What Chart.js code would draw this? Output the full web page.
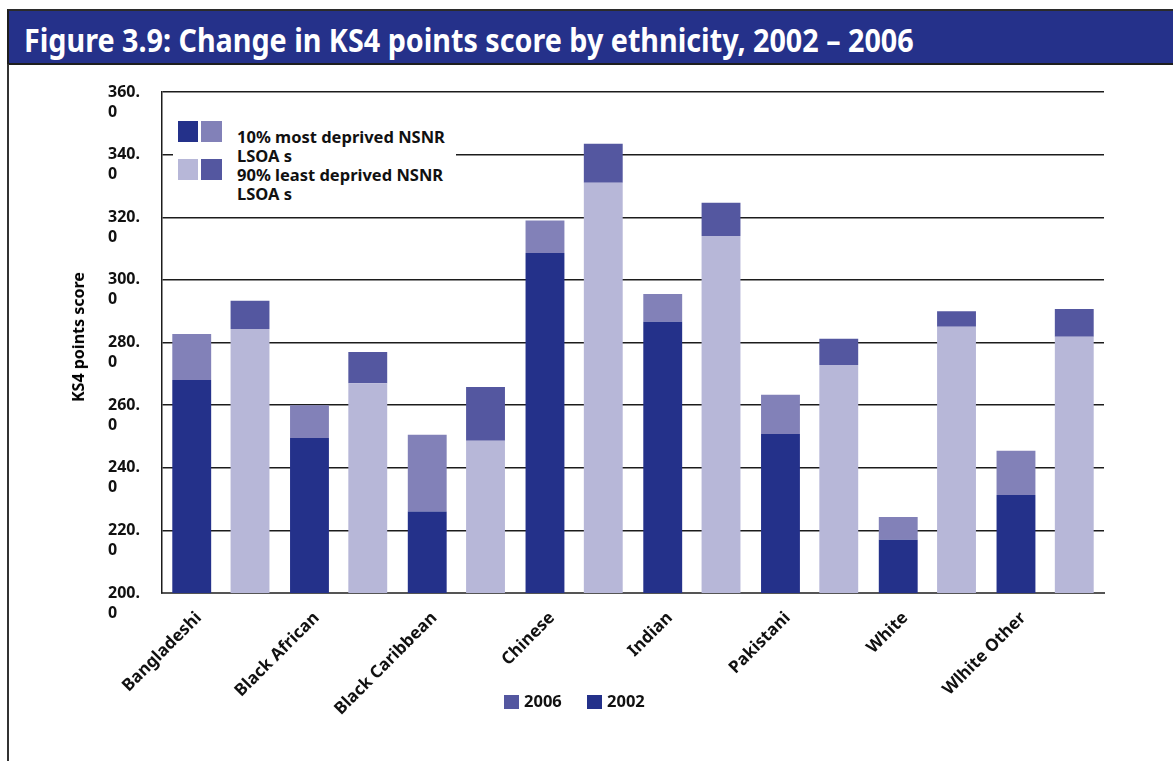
<!DOCTYPE html>
<html>
<head>
<meta charset="utf-8">
<title>Figure 3.9</title>
<script src="https://cdn.jsdelivr.net/npm/chart.js@4/dist/chart.umd.min.js"></script>
<style>
  body { margin: 0; width: 1173px; height: 761px; overflow: hidden; background: #fff; font-family: "Noto Sans", sans-serif; font-weight: bold; position: relative; }
  #wrap { position: absolute; left: 0; top: 0; width: 1173px; height: 761px; }
  #titlebar { position: absolute; left: 7px; top: 9px; width: 1166px; height: 52px; background: #25318a; border-top: 2px solid #2b2b2b; border-bottom: 2px solid #1e1e1e; border-left: 2px solid #1e1e1e; z-index: 3; }
  #title { position: absolute; left: 15px; top: 7px; color: #fff; font-size: 32px; white-space: nowrap; transform-origin: 0 0; }
  #frame { position: absolute; left: 7px; top: 64px; width: 2px; height: 700px; background: #333; z-index: 3; }
  #ytitle { position: absolute; left: 78px; top: 337px; font-size: 16px; white-space: nowrap; transform: translate(-50%, -50%) rotate(-90deg); z-index: 3; }
  #legend1 { position: absolute; left: 173px; top: 118px; width: 283px; height: 88px; background: #fff; z-index: 3; }
  .sw { position: absolute; }
  .lt { position: absolute; font-size: 16.5px; line-height: 19px; white-space: nowrap; color: #111; }
  #legend2 { position: absolute; left: 0; top: 0; z-index: 3; }
</style>
</head>
<body>
<div id="wrap"><canvas id="myChart" width="1173" height="761"></canvas></div>
<div id="titlebar"><div id="title">Figure 3.9: Change in KS4 points score by ethnicity, 2002 – 2006</div></div>
<div id="frame"></div>
<div id="ytitle">KS4 points score</div>
<div id="legend1">
  <div class="sw" style="left:5px;top:3px;width:20px;height:21px;background:#24318a"></div>
  <div class="sw" style="left:28px;top:3px;width:21px;height:21px;background:#8281b8"></div>
  <div class="sw" style="left:5px;top:41px;width:20px;height:21px;background:#b7b7d8"></div>
  <div class="sw" style="left:28px;top:41px;width:21px;height:21px;background:#5457a0"></div>
  <div class="lt" style="left:64px;top:9px">10% most deprived NSNR<br>LSOA s<br>90% least deprived NSNR<br>LSOA s</div>
</div>
<div id="legend2">
  <div class="sw" style="left:504px;top:695px;width:15px;height:14px;background:#5457a0"></div>
  <div class="lt" style="left:524px;top:691px">2006</div>
  <div class="sw" style="left:587px;top:695px;width:15px;height:14px;background:#24318a"></div>
  <div class="lt" style="left:607px;top:691px">2002</div>
</div>
<script>
var categories = ['Bangladeshi', 'Black African', 'Black Caribbean', 'Chinese', 'Indian', 'Pakistani', 'White', 'Wlhite Other'];
// KS4 points, 10% most deprived NSNR LSOAs
var deprived2002 = [268.0, 249.5, 226.0, 308.6, 286.6, 250.8, 217.0, 231.3];
var deprived2006 = [282.7, 260.0, 250.5, 319.0, 295.5, 263.3, 224.3, 245.4];
// KS4 points, 90% least deprived NSNR LSOAs
var least2002 = [284.3, 267.0, 248.6, 331.0, 314.0, 272.8, 285.0, 281.8];
var least2006 = [293.3, 277.0, 265.8, 343.5, 324.6, 281.2, 290.0, 290.7];
var yTicks = [200, 220, 240, 260, 280, 300, 320, 340, 360];

// stacked bars: second segment is the rise between 2002 and 2006
function rise(a, b) {
  return b.map(function (v, i) { return +(v - a[i]).toFixed(1); });
}

// squeeze the title to the width it has in the report
var t = document.getElementById('title');
t.style.transform = 'scaleX(' + (890 / t.offsetWidth) + ')';

var myChart = new Chart(
  document.getElementById('myChart'),
  {
    type: 'bar',
    data: {
      labels: categories,
      datasets: [
        { label: 'most deprived 2002', data: deprived2002, stack: 'dep', backgroundColor: '#24318a', clip: 0 },
        { label: 'most deprived 2006', data: rise(deprived2002, deprived2006), stack: 'dep', backgroundColor: '#8281b8', clip: 0 },
        { label: 'least deprived 2002', data: least2002, stack: 'least', backgroundColor: '#b7b7d8', clip: 0 },
        { label: 'least deprived 2006', data: rise(least2002, least2006), stack: 'least', backgroundColor: '#5457a0', clip: 0 }
      ]
    },
    options: {
      responsive: false,
      animation: false,
      layout: { padding: { left: 108, top: 92, right: 69, bottom: 0 } },
      categoryPercentage: 0.99,
      barPercentage: 0.667,
      plugins: { legend: { display: false }, tooltip: { enabled: false } },
      scales: {
        x: {
          stacked: true,
          grid: { display: false },
          border: { display: true, color: '#555', width: 2 },
          ticks: {
            color: '#111',
            font: { family: 'Noto Sans', size: 17, weight: 'bold' },
            minRotation: 45,
            maxRotation: 45,
            autoSkip: false,
            labelOffset: -22,
            padding: 7
          },
          afterFit: function (scale) { scale.height = 168; }
        },
        y: {
          stacked: true,
          min: 200,
          max: 360,
          afterBuildTicks: function (scale) {
            scale.ticks = yTicks.map(function (v) { return { value: v }; });
          },
          grid: { color: '#1c1c1c', lineWidth: 1.5, drawTicks: false },
          border: { display: true, color: '#1c1c1c', width: 1.5 },
          ticks: {
            color: '#111',
            crossAlign: 'far',
            autoSkip: false,
            font: { family: 'Noto Sans', size: 16, weight: 'bold', lineHeight: 1.25 },
            callback: function (value) {
              var s = Number(value).toFixed(1);
              return [' ', s.slice(0, -1), s.slice(-1)];
            }
          },
          afterFit: function (scale) { scale.width = 54; }
        }
      }
    }
  }
);
</script>
</body>
</html>
